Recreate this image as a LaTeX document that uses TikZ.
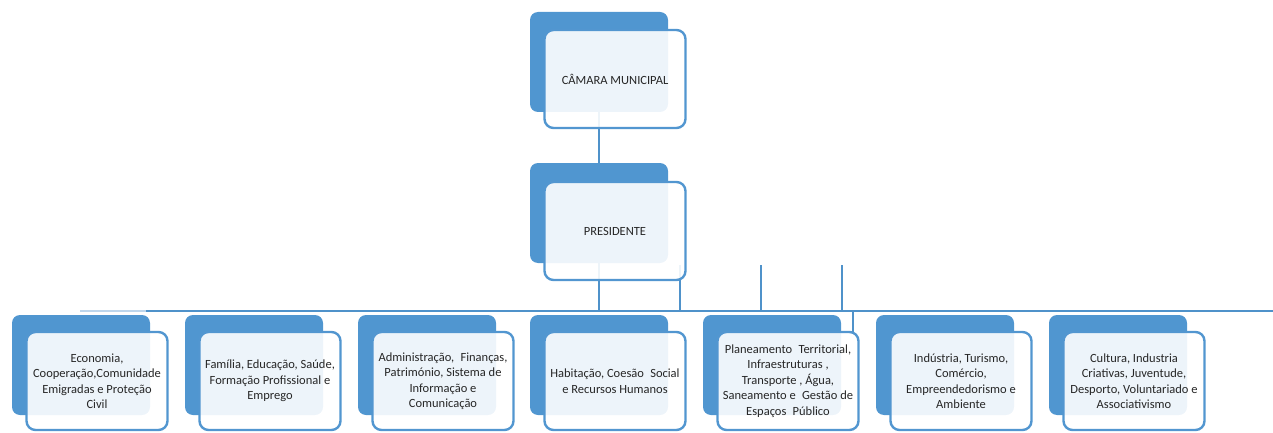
\documentclass[tikz,border=0pt]{standalone}
\usepackage{fontspec}
\setmainfont{Carlito}
\definecolor{dkblue}{RGB}{80,150,208}
\definecolor{edgeblue}{RGB}{82,150,208}
\definecolor{lnblue}{RGB}{79,146,202}
\definecolor{pale}{RGB}{190,214,236}
\definecolor{txt}{RGB}{38,38,38}
\tikzset{
  darkbox/.style={fill=dkblue, draw=none, rounded corners=8pt, minimum width=138pt, minimum height=100pt, inner sep=0pt},
  lightbox/.style={fill=white, fill opacity=0.9, text opacity=1, draw=edgeblue, line width=2.4pt, rounded corners=9pt, minimum width=141pt, minimum height=98pt, inner sep=0pt, align=center, text=txt, font=\fontsize{12.5pt}{15.5pt}\selectfont},
  conn/.style={draw=lnblue, line width=1.7pt},
}
\begin{document}
\begin{tikzpicture}[x=1pt,y=-1pt]
\useasboundingbox (0,0) rectangle (1273,433);
% coordinates for connectors
\coordinate (busL) at (80,311);
\coordinate (busM) at (146,311);
\coordinate (busR) at (1273,311);
\coordinate (p1) at (599,263);
\coordinate (p2) at (680,265);
\coordinate (p3) at (761,265);
\coordinate (p4) at (842,265);
\coordinate (k1) at (853,311);
\coordinate (k2) at (853,332);
\coordinate (t1) at (599,112);
\coordinate (t2) at (599,163);
% connectors (behind boxes)
\draw[draw=pale, line width=1.7pt] (busL) -- (busM);
\draw[conn] (busM) -- (busR);
\draw[conn] (t1) -- (t2);
\draw[conn] (p1) -- (p1 |- busL);
\draw[conn] (p2) -- (p2 |- busL);
\draw[conn] (p3) -- (p3 |- busL);
\draw[conn] (p4) -- (p4 |- busL);
\draw[conn] (k1) -- (k2);
% top boxes
\node[darkbox] (camd) at (599,62) {};
\node[lightbox] (caml) at (615,79) {CÂMARA MUNICIPAL};
\node[darkbox] (presd) at (599,213) {};
\node[lightbox] (presl) at (615,231) {PRESIDENTE};
% bottom boxes
\node[darkbox] (d1) at (81,365) {};
\node[lightbox] (l1) at (97,381) {Economia,\\Cooperação,Comunidade\\Emigradas e Proteção\\Civil};
\node[darkbox] (d2) at (254,365) {};
\node[lightbox] (l2) at (270,381) {Família, Educação, Saúde,\\Formação Profissional e\\Emprego};
\node[darkbox] (d3) at (427,365) {};
\node[lightbox] (l3) at (443,381) {Administração,\enspace Finanças,\\Património, Sistema de\\Informação e\\Comunicação};
\node[darkbox] (d4) at (599,365) {};
\node[lightbox] (l4) at (615,381) {Habitação, Coesão\enspace Social\\e Recursos Humanos};
\node[darkbox] (d5) at (772,365) {};
\node[lightbox] (l5) at (788,381) {Planeamento\enspace Territorial,\\Infraestruturas ,\\Transporte , Água,\\Saneamento e\enspace Gestão de\\Espaços\enspace Público};
\node[darkbox] (d6) at (945,365) {};
\node[lightbox] (l6) at (961,381) {Indústria, Turismo,\\Comércio,\\Empreendedorismo e\\Ambiente};
\node[darkbox] (d7) at (1118,365) {};
\node[lightbox] (l7) at (1134,381) {Cultura, Industria\\Criativas, Juventude,\\Desporto, Voluntariado e\\Associativismo};
\end{tikzpicture}
\end{document}
